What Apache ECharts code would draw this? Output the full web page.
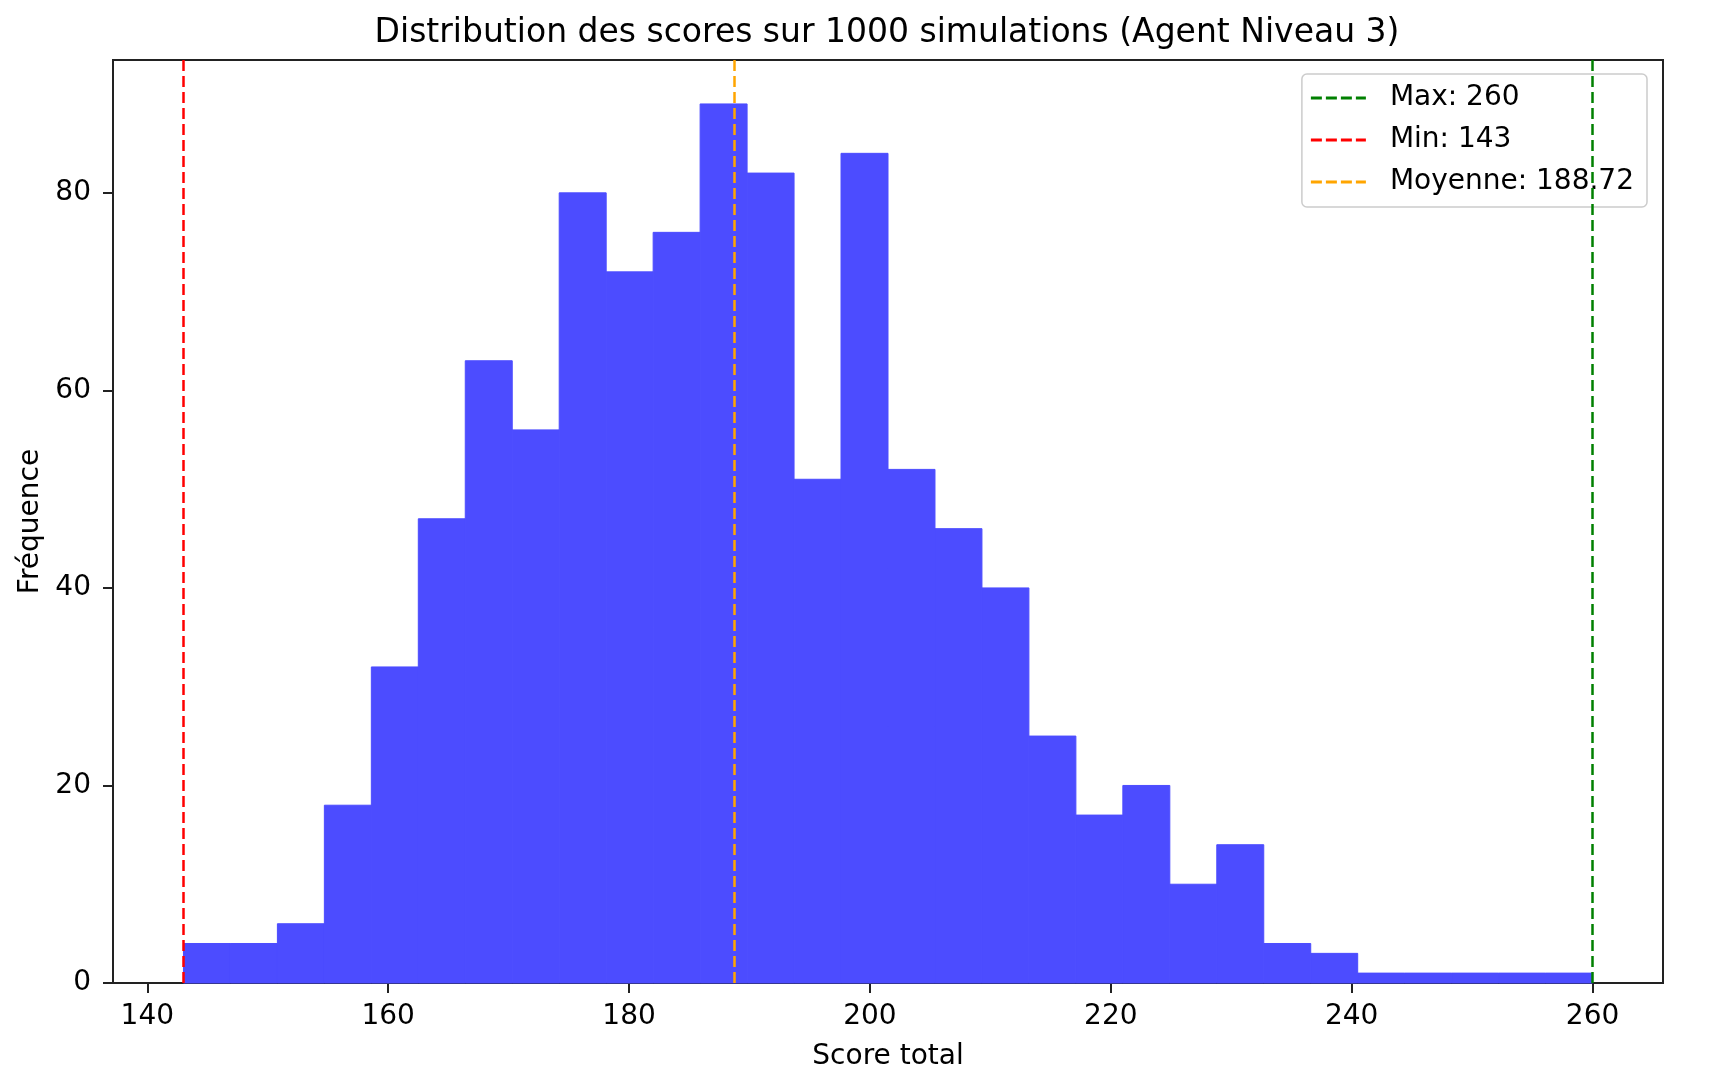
<!DOCTYPE html>
<html>
<head>
<meta charset="utf-8">
<script src="https://cdn.jsdelivr.net/npm/echarts@6/dist/echarts.min.js"></script>
<style>
html,body{margin:0;padding:0;background:#fff;}
#chart{width:1710px;height:1082px;}
</style>
</head>
<body>
<div id="chart"></div>
<script>
// Histogram bin edges (30 bins between min 143 and max 260)
const binEdges = [143, 146.9, 150.8, 154.7, 158.6, 162.5, 166.4, 170.3, 174.2, 178.1, 182,
  185.9, 189.8, 193.7, 197.6, 201.5, 205.4, 209.3, 213.2, 217.1, 221,
  224.9, 228.8, 232.7, 236.6, 240.5, 244.4, 248.3, 252.2, 256.1, 260];
// Frequencies per bin
const counts = [4, 4, 6, 18, 32, 47, 63, 56, 80, 72, 76, 89, 82, 51, 84, 52, 46, 40, 25, 17,
  20, 10, 14, 4, 3, 1, 1, 1, 1, 1];
// Reference lines
const refNames = ['Max: 260', 'Min: 143', 'Moyenne: 188.72'];
const refValues = [260, 143, 188.72];
const refColors = ['#008000', '#ff0000', '#ffa500'];
// Tick labels
const xTicks = [140, 160, 180, 200, 220, 240, 260];
const yTicks = [0, 20, 40, 60, 80];

const FONT = 'DejaVu Sans';
const histData = counts.map((c, i) => [binEdges[i], binEdges[i + 1], c]);

const dashIcon = 'path://M0,0h11v3h-11z M15,0h11v3h-11z M30,0h11v3h-11z M45,0h10v3h-10z';

const refSeries = refNames.map((n, i) => ({
  name: n,
  type: 'line',
  data: [],
  color: refColors[i],
  symbol: 'none',
  z: 5,
  markLine: {
    silent: true,
    symbol: 'none',
    animation: false,
    label: { show: false },
    lineStyle: { color: refColors[i], type: [11, 5], width: 2.5 },
    data: [{ xAxis: refValues[i] }]
  }
}));

const chart = echarts.init(document.getElementById('chart'));
chart.setOption({
  animation: false,
  backgroundColor: '#fff',
  title: {
    text: 'Distribution des scores sur 1000 simulations (Agent Niveau 3)',
    left: 882, top: 12, textAlign: 'center',
    textStyle: { fontFamily: FONT, fontSize: 33, fontWeight: 'normal', color: '#000' }
  },
  legend: {
    orient: 'vertical',
    right: 63, top: 74,
    data: refNames,
    icon: dashIcon,
    itemWidth: 55, itemHeight: 3,
    itemGap: 14,
    padding: [10, 13, 11, 9],
    backgroundColor: 'rgba(255,255,255,0.8)',
    borderColor: '#cccccc', borderWidth: 1.5, borderRadius: 5,
    textStyle: { fontFamily: FONT, fontSize: 28, color: '#000', lineHeight: 28, padding: [0, 0, 0, 19] }
  },
  grid: {
    left: 113, right: 47, top: 60, bottom: 99,
    show: true, borderColor: '#222', borderWidth: 2, backgroundColor: 'transparent'
  },
  xAxis: {
    type: 'value', min: 137.15, max: 265.85,
    name: 'Score total', nameLocation: 'middle', nameGap: 60,
    nameTextStyle: { fontFamily: FONT, fontSize: 28, color: '#000' },
    axisLine: { show: true, onZero: false, lineStyle: { color: '#222', width: 2 } },
    axisTick: { show: true, length: 10, customValues: xTicks, lineStyle: { color: '#222', width: 2 } },
    axisLabel: { customValues: xTicks, margin: 20, fontFamily: FONT, fontSize: 28, color: '#000' },
    splitLine: { show: false }
  },
  yAxis: {
    type: 'value', min: 0, max: 93.45,
    name: 'Fréquence', nameLocation: 'middle', nameGap: 68,
    nameTextStyle: { fontFamily: FONT, fontSize: 28, color: '#000' },
    axisLine: { show: true, lineStyle: { color: '#222', width: 2 } },
    axisTick: { show: true, length: 10, customValues: yTicks, lineStyle: { color: '#222', width: 2 } },
    axisLabel: { customValues: yTicks, margin: 22, fontFamily: FONT, fontSize: 28, color: '#000' },
    splitLine: { show: false }
  },
  series: [{
    name: 'hist',
    type: 'custom',
    data: histData,
    encode: { x: [0, 1], y: 2 },
    z: 2,
    renderItem: function (params, api) {
      const p0 = api.coord([api.value(0), api.value(2)]);
      const p1 = api.coord([api.value(1), 0]);
      return {
        type: 'rect',
        shape: { x: p0[0], y: p0[1], width: p1[0] - p0[0], height: p1[1] - p0[1] },
        style: { fill: '#4c4cff', stroke: '#4c4cff', lineWidth: 1 }
      };
    }
  }].concat(refSeries)
});
</script>
</body>
</html>
